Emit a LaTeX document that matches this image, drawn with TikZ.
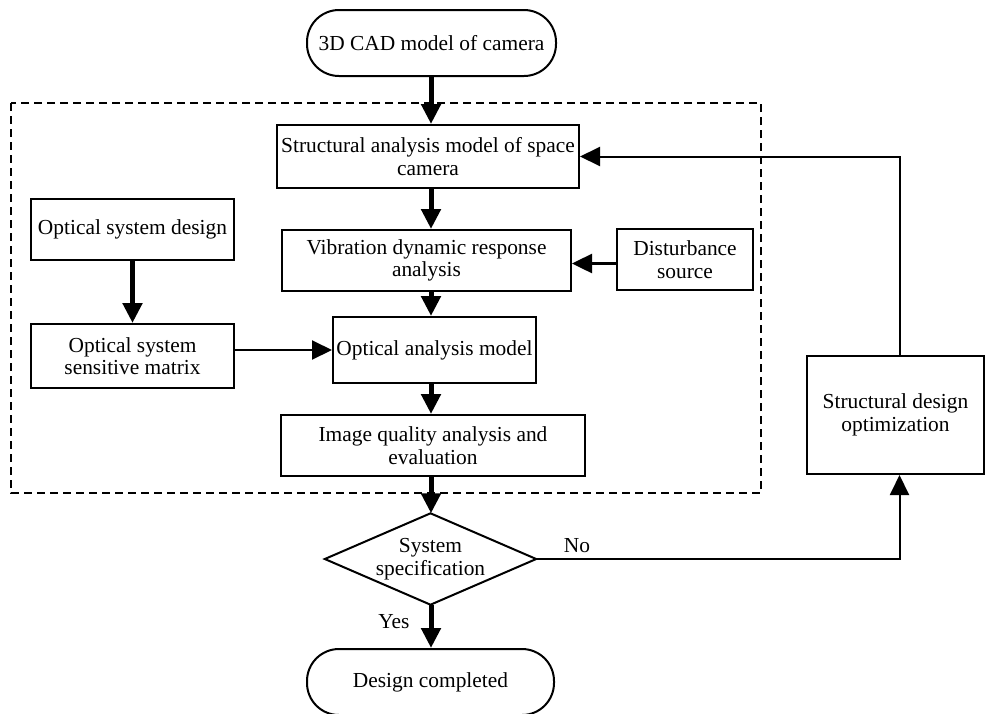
\documentclass[tikz,border=0pt]{standalone}
\usepackage{fontspec}
\setmainfont{Liberation Serif}
\usetikzlibrary{arrows.meta,calc}
\tikzset{
  txt/.style={align=center, inner sep=0pt, font=\fontsize{21.4pt}{22.5pt}\selectfont},
  box/.style={txt, draw, line width=2pt, rectangle},
  term/.style={box, rounded corners=32pt},
  frame/.style={line width=2pt, dash pattern=on 8pt off 5pt},
  bigarrow/.style={line width=5pt, -{Triangle[length=20pt,width=19pt]}},
  midarrow/.style={line width=2.5pt, -{Triangle[length=20pt,width=19pt]}},
  smallarrow/.style={line width=2pt, -{Triangle[length=20pt,width=19pt]}},
  plainline/.style={line width=2pt}
}
\begin{document}
\begin{tikzpicture}[x=1pt,y=-1pt]
\useasboundingbox (0,0) rectangle (985,713);
\draw[frame] (11,103) rectangle (761,493);
\coordinate (col) at (431,0);
\node[term, minimum width=249pt, minimum height=66pt] (top) at (431.5,43) {3D CAD model of camera};
\node[box, minimum width=302pt, minimum height=63pt] (struct) at (428,156.5) {Structural analysis model of space\\camera};
\node[box, minimum width=289pt, minimum height=61pt] (vib) at (426.5,260.5) {Vibration dynamic response\\analysis};
\node[box, minimum width=136pt, minimum height=61pt] (dist) at (685,259.5) {Disturbance\\source};
\node[box, minimum width=203pt, minimum height=61pt] (osd) at (132.5,229.5) {Optical system design};
\node[box, minimum width=203pt, minimum height=64pt] (osm) at (132.5,356) {Optical system\\sensitive matrix};
\node[box, minimum width=203pt, minimum height=66pt] (oam) at (434.5,350) {Optical analysis model};
\node[box, minimum width=304pt, minimum height=61pt] (iqa) at (433,445.5) {Image quality analysis and\\evaluation};
\node[txt, minimum width=211pt, minimum height=91pt] (dia) at (430.5,559) {System\\specification};
\draw[plainline] (dia.north) -- (dia.east) -- (dia.south) -- (dia.west) -- cycle;
\node[term, minimum width=247pt, minimum height=66pt] (done) at (430.5,682) {Design completed};
\node[box, minimum width=177pt, minimum height=118pt] (sdo) at (895.5,415) {Structural design\\optimization};
\node[txt] (no) at (577,546) {No};
\node[txt] (yes) at (394,622) {Yes};
\draw[bigarrow] (col |- top.south) -- (col |- struct.north);
\draw[bigarrow] (col |- struct.south) -- (col |- vib.north);
\draw[bigarrow] (col |- vib.south) -- (col |- oam.north);
\draw[bigarrow] (col |- oam.south) -- (col |- iqa.north);
\draw[bigarrow] (col |- iqa.south) -- (col |- dia.north);
\draw[bigarrow] (col |- dia.south) -- (col |- done.north);
\draw[bigarrow] (osd.south) -- (osm.north);
\draw[smallarrow] (osm.east |- oam.west) -- (oam.west);
\draw[midarrow] ([yshift=-4pt]dist.west) -- ([yshift=-4pt]dist.west -| vib.east);
\draw[smallarrow] (dia.east) -| ([xshift=4pt]sdo.south);
\draw[smallarrow] ([xshift=4pt]sdo.north) |- (struct.east);
\end{tikzpicture}
\end{document}
